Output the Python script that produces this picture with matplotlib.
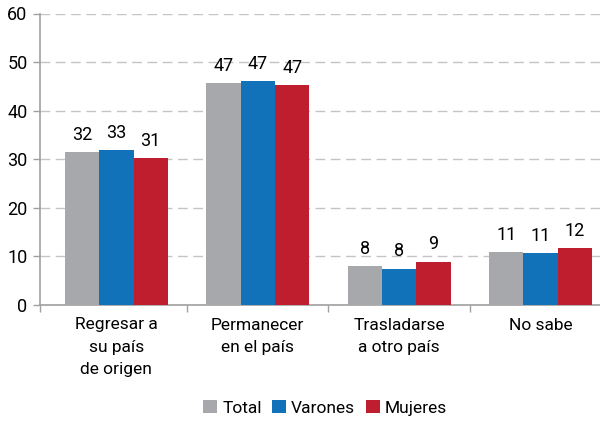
import numpy as np
import matplotlib.pyplot as plt

# data
categories = ['Regresar a\nsu país\nde origen', 'Permanecer\nen el país',
              'Trasladarse\na otro país', 'No sabe']
series_names = ['Total', 'Varones', 'Mujeres']
total = [31.5, 45.7, 8.0, 10.9]
varones = [31.9, 46.1, 7.5, 10.7]
mujeres = [30.2, 45.3, 8.9, 11.7]
total_labels = [32, 47, 8, 11]
varones_labels = [33, 47, 8, 11]
mujeres_labels = [31, 47, 9, 12]
colors = ['#a7a8ab', '#1172ba', '#be1e2d']

plt.rcParams['font.family'] = ['Roboto', 'DejaVu Sans']

fig = plt.figure(figsize=(6, 4.21), dpi=100)
ax = fig.add_axes([40/600, 1 - 305/421, 1 - 40/600, (305 - 13.5)/421])

x = np.arange(len(categories))
w = 0.243
values = [total, varones, mujeres]
labels = [total_labels, varones_labels, mujeres_labels]
for i, (vals, labs) in enumerate(zip(values, labels)):
    pos = x + (i - 1)*w
    ax.bar(pos, vals, width=w, color=colors[i], label=series_names[i], zorder=3)
    for px, v, l in zip(pos, vals, labs):
        ax.annotate(str(l), (px, v), xytext=(0, 6), textcoords='offset points',
                    ha='center', va='bottom', fontsize=13)

xmin, xmax = -0.54, 3.42
ax.set_xlim(xmin, xmax)
ax.set_ylim(0, 60)
ax.set_yticks(range(0, 61, 10))
ax.set_xticks(x)
ax.set_xticklabels(categories, fontsize=12.5, linespacing=1.6, va='top')
ax.set_xticks([xmin, 0.5, 1.5, 2.5], minor=True)
ax.tick_params(axis='x', which='major', length=0, pad=9)
ax.tick_params(axis='x', which='minor', length=5, color='#a0a0a0', width=1)
ax.tick_params(axis='y', length=5, color='#a0a0a0', width=1, labelsize=13, pad=4)

ax.grid(axis='y', color='#c4c4c4', linestyle=(0, (7, 4)), linewidth=1, zorder=0)
for s in ['top', 'right']:
    ax.spines[s].set_visible(False)
for s in ['left', 'bottom']:
    ax.spines[s].set_color('#a0a0a0')
    ax.spines[s].set_linewidth(1.2)

h, l = ax.get_legend_handles_labels()
fig.legend(h, l, loc='center', bbox_to_anchor=(325/600, 1 - 408/421), ncol=3,
           frameon=False, fontsize=12.5, handlelength=0.8, handleheight=0.8,
           handletextpad=0.3, columnspacing=0.6)

plt.savefig('out.png', dpi=100)
